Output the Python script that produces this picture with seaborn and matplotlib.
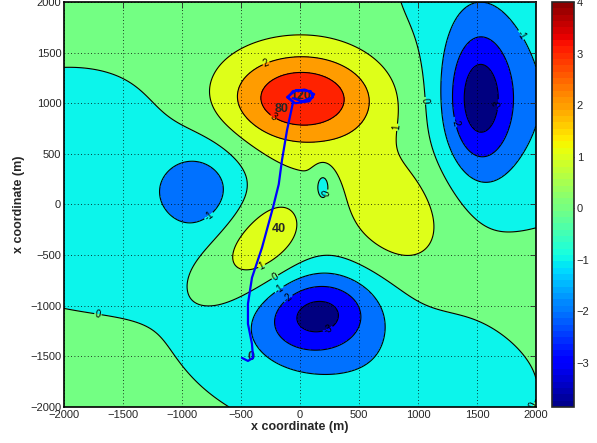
import numpy as np
import matplotlib
matplotlib.use("Agg")
import matplotlib.pyplot as plt
import seaborn as sns
from matplotlib.colors import ListedColormap, Normalize

# bumps that build the field: centre x, centre y, amplitude, spread x, spread y, tilt (deg)
bump_x = [0, 100, 850, -370, -820, -1900, 1510, 1860, 1250, 150, 550, 195]
bump_y = [1060, 900, -120, -420, 140, 200, 1030, 1050, 2300, -1070, -1650, 180]
bump_amp = [2.8, 0.85, 1.2, 1.5, -1.5, -1.3, -3.0, -1.4, -0.5, -3.1, -1.2, -1.2]
bump_sx = [420, 700, 320, 250, 260, 900, 210, 600, 500, 350, 1050, 55]
bump_sy = [300, 500, 430, 350, 340, 800, 500, 850, 500, 285, 550, 130]
bump_tilt = [0, 0, 10, -30, 0, 0, 0, 0, 0, 15, -10, 0]
base_level = 0.45

levels = [-3, -2, -1, 0, 1, 2, 3, 4]
clim = (-3.86, 4.0)

# tracer path, from the start (t=0) up to the end near the peak
path_x = [-492, -441, -398, -407, -441, -441, -407, -322, -229, -180, -153, -110, -59,
          -100, -60, 40, 120, 80, -40, -110, -30, 90, 110, 20, -60]
path_y = [-1515, -1545, -1515, -1376, -1178, -980, -723, -426, -30, 200, 436, 733, 1010,
          1060, 1120, 1135, 1090, 1020, 1000, 1060, 1130, 1120, 1060, 1020, 1050]
time_labels = ["0", "40", "80", "120"]
time_x = [-441, -237, -212, -85]
time_y = [-1505, -238, 940, 1069]

sns.set_style("white")
plt.rcParams["font.family"] = ["Liberation Sans", "DejaVu Sans"]

gx, gy = np.meshgrid(np.linspace(-2000, 2000, 321), np.linspace(-2000, 2000, 321))
z = np.full_like(gx, base_level)
for cx, cy, a, sx, sy, t in zip(bump_x, bump_y, bump_amp, bump_sx, bump_sy, bump_tilt):
    th = np.deg2rad(t)
    u = (gx - cx) * np.cos(th) + (gy - cy) * np.sin(th)
    v = -(gx - cx) * np.sin(th) + (gy - cy) * np.cos(th)
    z += a * np.exp(-0.5 * ((u / sx) ** 2 + (v / sy) ** 2))

# each band takes the colour of its lower level, like matlab contourf
norm = Normalize(*clim)
jet = plt.get_cmap("jet")
fill_levels = [min(z.min(), clim[0]) - 1] + levels + [max(z.max(), clim[1]) + 1]
fill_colors = [jet(norm(clim[0]))] + [jet(norm(l)) for l in levels]

fig = plt.figure(figsize=(5.97, 4.43), dpi=100)
ax = fig.add_axes([64 / 597, 36 / 443, 472 / 597, 405 / 443])
cax = fig.add_axes([552 / 597, 36 / 443, 22 / 597, 405 / 443])

ax.contourf(gx, gy, z, levels=fill_levels, colors=fill_colors)
cs = ax.contour(gx, gy, z, levels=levels, colors="black", linewidths=0.8,
                negative_linestyles="solid")
ax.clabel(cs, fmt="%d", fontsize=7, inline=True, inline_spacing=1)

for s, tx, ty in zip(time_labels, time_x, time_y):
    ax.text(tx, ty, s, fontsize=9, fontweight="bold", va="center", ha="left", zorder=4)
ax.plot(path_x, path_y, color="#0000ff", lw=1.6, zorder=5)

ax.set_xlim(-2000, 2000)
ax.set_ylim(-2000, 2000)
ticks = np.arange(-2000, 2001, 500)
ax.set_xticks(ticks)
ax.set_yticks(ticks)
ax.set_xticklabels([str(t).replace("-", "\u2212") for t in ticks])
ax.set_yticklabels([str(t).replace("-", "\u2212") for t in ticks])
ax.tick_params(direction="in", length=4, width=0.6, top=True, right=True, labelsize=8, pad=2)
ax.grid(True, color="black", linestyle=(0, (1, 3)), linewidth=0.6)
ax.set_axisbelow(False)
for sp in ax.spines.values():
    sp.set_linewidth(1.2)
    sp.set_color("black")
ax.set_xlabel("x coordinate (m)", fontsize=9, fontweight="bold", labelpad=1)
ax.set_ylabel("x coordinate (m)", fontsize=9, fontweight="bold", labelpad=4)

cb_cmap = ListedColormap(sns.mpl_palette("jet", 64))
cb = fig.colorbar(plt.cm.ScalarMappable(norm=norm, cmap=cb_cmap), cax=cax)
cb.set_ticks(levels)
cb.set_ticklabels([str(l).replace("-", "\u2212") for l in levels])
cax.tick_params(direction="in", length=3, width=0.6, labelsize=8, left=True, right=True, pad=2)
cb.outline.set_linewidth(1.2)

fig.savefig("out.png", dpi=100)
